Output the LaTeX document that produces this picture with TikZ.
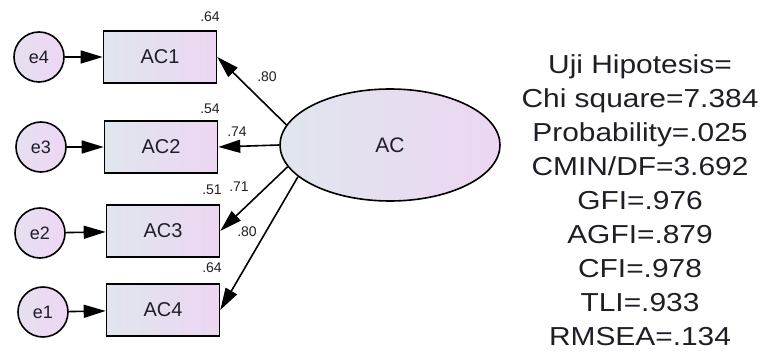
\documentclass[tikz,border=0pt]{standalone}
\usepackage{fontspec}
\setmainfont{Liberation Sans}
\newfontfamily\fitfont[FakeStretch=1.15]{Liberation Sans}
\usetikzlibrary{arrows.meta,shapes.geometric}
\definecolor{boxl}{RGB}{224,230,238}
\definecolor{boxr}{RGB}{236,214,242}
\definecolor{errl}{RGB}{230,224,240}
\definecolor{errr}{RGB}{238,214,244}
\definecolor{ink}{RGB}{30,30,40}
\begin{document}
\begin{tikzpicture}[x=1pt,y=-1pt,
  obs/.style={rectangle,draw,line width=1.6pt,minimum width=113pt,minimum height=52pt,
    left color=boxl,right color=boxr,text=ink,font=\fontsize{20}{24}\selectfont},
  err/.style={circle,draw,line width=1.6pt,minimum size=50pt,inner sep=0pt,
    left color=errl,right color=errr,text=ink,font=\fontsize{18}{22}\selectfont},
  lat/.style={ellipse,draw,line width=1.6pt,minimum width=220pt,minimum height=112pt,
    left color=boxl,right color=boxr,text=ink,font=\fontsize{21}{24}\selectfont},
  est/.style={text=ink,inner sep=0pt,font=\fontsize{14}{16}\selectfont},
  link/.style={-{Triangle[length=22pt,width=13pt]},line width=1.6pt}]
\useasboundingbox (0,0) rectangle (762,355);
% latent variable and indicators
\node[lat] (AC) at (390,145) {AC};
\node[obs] (AC1) at (160,57) {AC1};
\node[obs] (AC2) at (161,147) {AC2};
\node[obs] (AC3) at (163,231) {AC3};
\node[obs] (AC4) at (163,310) {AC4};
% error terms
\node[err] (e4) at (39,57) {e4};
\node[err] (e3) at (41,147) {e3};
\node[err] (e2) at (40,233) {e2};
\node[err] (e1) at (43,312) {e1};
% estimates
\node[est] (r1) at (210,17) {.64};
\node[est] (l1) at (267,77) {.80};
\node[est] (r2) at (210,109) {.54};
\node[est] (l2) at (237,132) {.74};
\node[est] (r3) at (212,190) {.51};
\node[est] (l3) at (239,187) {.71};
\node[est] (l4) at (247,232) {.80};
\node[est] (r4) at (212,268) {.64};
% fit indices
\node[text=ink,align=center,font=\fitfont\fontsize{26}{34}\selectfont] (fit) at (640,200)
  {Uji Hipotesis=\\Chi square=7.384\\Probability=.025\\CMIN/DF=3.692\\GFI=.976\\AGFI=.879\\CFI=.978\\TLI=.933\\RMSEA=.134};
\path
  (AC.169) edge[link] (AC1.east)
  (AC.west) edge[link] (AC2.east)
  (AC.192) edge[link] (AC3.east)
  (AC.199) edge[link] (AC4.east)
  (e4) edge[link] (AC1)
  (e3) edge[link] (AC2)
  (e2) edge[link] (AC3)
  (e1) edge[link] (AC4)
;
\end{tikzpicture}
\end{document}
